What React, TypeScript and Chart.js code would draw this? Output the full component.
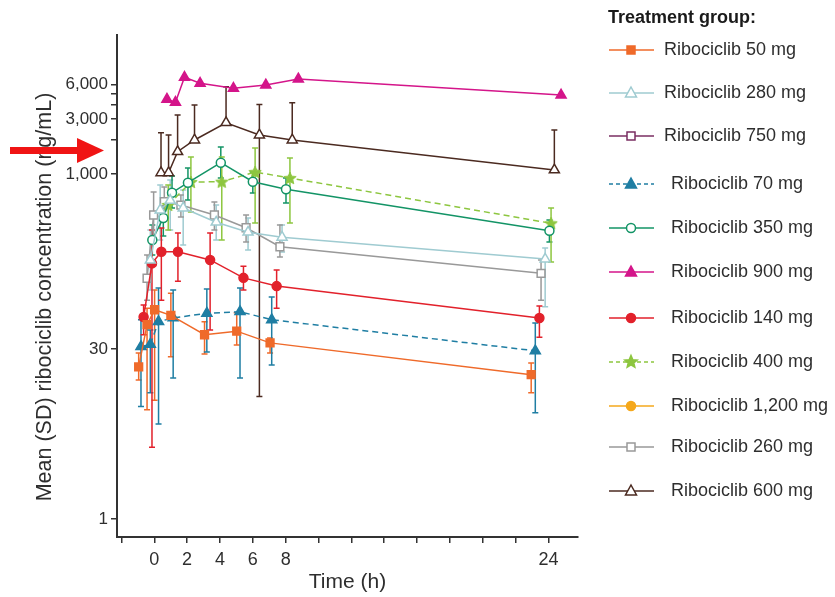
import React, { useEffect, useRef } from 'react';
import { Chart, registerables } from 'chart.js';
Chart.register(...registerables);

// ---------- data (time in h, concentration in ng/mL) ----------
const time50 = [-0.95, -0.44, 0.02, 1.01, 3.06, 5.02, 7.05, 22.95];
const conc50 = [21, 49, 66, 59, 40, 43, 34, 18];
const hi50 = [27.8, 68, 98, 92, 52, 62, 37.5, 22.7];
const lo50 = [16.2, 8.9, 10.8, 25.8, 27.2, 32.6, 27.8, 12.5];

const time280 = [-0.24, 0.36, 0.97, 1.76, 3.77, 5.71, 7.78, 23.8];
const conc280 = [178, 486, 590, 506, 381, 312, 282, 182];
const hi280 = [326, 802, 887, 726, 537, 414, 360, 227];
const lo280 = [98, 267, 326, 241, 267, 218, 210, 70];

const time750: number[] = [];
const conc750: number[] = [];

const time70 = [-0.81, -0.24, 0.26, 1.15, 3.2, 5.22, 7.15, 23.2];
const conc70 = [31.5, 33, 52, 56, 61.5, 63.5, 54, 29];
const hi70 = [54, 44, 102, 98, 100, 102, 85, 50.6];
const lo70 = [9.5, 12.5, 6.7, 16.8, 28.3, 16.8, 21.8, 8.4];

const time350 = [-0.12, 0.55, 1.08, 2.05, 4.05, 6.0, 8.02, 24.06];
const conc350 = [267, 414, 688, 840, 1254, 857, 736, 321];
const hi350 = [360, 594, 961, 1128, 1718, 1040, 923, 398];
const lo350 = [198, 289, 506, 594, 923, 684, 560, 256];

const time900 = [0.77, 1.29, 1.84, 2.79, 4.82, 6.79, 8.77, 24.77];
const conc900 = [4465, 4200, 6930, 6150, 5560, 5940, 6700, 4860];

const time140 = [-0.65, -0.14, 0.43, 1.44, 3.4, 5.43, 7.45, 23.45];
const conc140 = [57, 167, 211, 211, 179, 125, 106, 56];
const hi140 = [72.6, 326, 339, 307, 307, 158, 146, 71];
const lo140 = [40, 4.2, 80, 117, 44, 98, 68, 38];

const time400 = [0.85, 2.23, 4.11, 6.14, 8.26, 24.16];
const conc400 = [538, 852, 857, 1040, 923, 373];
const hi400 = [802, 1406, 1406, 1683, 1377, 506];
const lo400 = [326, 468, 267, 375, 375, 172];

const time1200: number[] = [];
const conc1200: number[] = [];

const time260 = [-0.44, -0.04, 0.61, 1.62, 3.66, 5.59, 7.65, 23.55];
const conc260 = [124, 440, 574, 537, 440, 341, 233, 137];
const hi260 = [198, 697, 771, 657, 571, 440, 360, 179];
const lo260 = [80, 267, 398, 423, 326, 256, 190, 80];

const time600 = [0.41, 0.87, 1.42, 2.45, 4.37, 6.4, 8.4, 24.36];
const conc600 = [1026, 1026, 1563, 1977, 2793, 2184, 1977, 1085];
const hi600 = [2286, 2184, 3260, 3980, 5740, 4017, 4170, 2416];
const lo600 = [null, null, null, null, null, 11.6, null, null];

const xTicks = [-2, 0, 2, 4, 6, 8, 10, 12, 14, 16, 18, 20, 22, 24];
const xLabels = [0, 2, 4, 6, 8, 24];
const yTicks = [1, 30, 1000, 2000, 3000, 4000, 5000, 6000];
const yLabels = [1, 30, 1000, 3000, 6000];

const FONT = "'Liberation Sans', Arial, Helvetica, sans-serif";
const TXT = '#2e2e2e';

type Group = {
  label: string; t: number[]; c: number[]; hi?: (number | null)[]; lo?: (number | null)[];
  color: string; marker: 'rect' | 'triangle' | 'circle' | 'star'; open: boolean; dashed: boolean;
};

const groups: Group[] = [
  { label: 'Ribociclib 50 mg', t: time50, c: conc50, hi: hi50, lo: lo50, color: '#ef6a2a', marker: 'rect', open: false, dashed: false },
  { label: 'Ribociclib 280 mg', t: time280, c: conc280, hi: hi280, lo: lo280, color: '#9fcbd1', marker: 'triangle', open: true, dashed: false },
  { label: 'Ribociclib 750 mg', t: time750, c: conc750, color: '#7a2e62', marker: 'rect', open: true, dashed: false },
  { label: 'Ribociclib 70 mg', t: time70, c: conc70, hi: hi70, lo: lo70, color: '#1f7ea3', marker: 'triangle', open: false, dashed: true },
  { label: 'Ribociclib 350 mg', t: time350, c: conc350, hi: hi350, lo: lo350, color: '#139466', marker: 'circle', open: true, dashed: false },
  { label: 'Ribociclib 900 mg', t: time900, c: conc900, color: '#d4158a', marker: 'triangle', open: false, dashed: false },
  { label: 'Ribociclib 140 mg', t: time140, c: conc140, hi: hi140, lo: lo140, color: '#e2212b', marker: 'circle', open: false, dashed: false },
  { label: 'Ribociclib 400 mg', t: time400, c: conc400, hi: hi400, lo: lo400, color: '#8dc63f', marker: 'star', open: false, dashed: true },
  { label: 'Ribociclib 1,200 mg', t: time1200, c: conc1200, color: '#f5a81c', marker: 'circle', open: false, dashed: false },
  { label: 'Ribociclib 260 mg', t: time260, c: conc260, hi: hi260, lo: lo260, color: '#999999', marker: 'rect', open: true, dashed: false },
  { label: 'Ribociclib 600 mg', t: time600, c: conc600, hi: hi600, lo: lo600, color: '#4b2a20', marker: 'triangle', open: true, dashed: false },
];

const legendY = [50, 93, 136, 184, 228, 272, 318, 362, 406, 447, 491];

function starPath(ctx: CanvasRenderingContext2D, x: number, y: number, r: number) {
  ctx.beginPath();
  for (let i = 0; i < 10; i++) {
    const rad = i % 2 === 0 ? r : r * 0.45;
    const a = -Math.PI / 2 + (i * Math.PI) / 5;
    const px = x + rad * Math.cos(a), py = y + rad * Math.sin(a);
    if (i === 0) ctx.moveTo(px, py); else ctx.lineTo(px, py);
  }
  ctx.closePath();
}

function drawMarker(ctx: CanvasRenderingContext2D, g: Group, x: number, y: number) {
  ctx.save();
  ctx.lineWidth = 1.5;
  ctx.strokeStyle = g.color;
  ctx.fillStyle = g.open ? '#ffffff' : g.color;
  ctx.setLineDash([]);
  if (g.marker === 'rect') {
    ctx.beginPath(); ctx.rect(x - 4, y - 4, 8, 8);
  } else if (g.marker === 'triangle') {
    ctx.beginPath(); ctx.moveTo(x, y - 6); ctx.lineTo(x + 5.5, y + 4); ctx.lineTo(x - 5.5, y + 4); ctx.closePath();
  } else if (g.marker === 'circle') {
    ctx.beginPath(); ctx.arc(x, y, 4.5, 0, Math.PI * 2);
  } else {
    starPath(ctx, x, y, 6.5);
  }
  ctx.fill(); ctx.stroke();
  ctx.restore();
}

const errorBars = {
  id: 'errorBars',
  beforeDatasetsDraw(chart: any) {
    const { ctx } = chart;
    const xs = chart.scales.x, ys = chart.scales.y;
    chart.data.datasets.forEach((ds: any) => {
      if (!ds.errHi) return;
      ctx.save();
      ctx.strokeStyle = ds.borderColor;
      ctx.lineWidth = 1.5;
      ctx.setLineDash([]);
      ds.data.forEach((p: any, j: number) => {
        const px = xs.getPixelForValue(p.x);
        const py = ys.getPixelForValue(p.y);
        const ends = [ds.errHi[j], ds.errLo ? ds.errLo[j] : null];
        ends.forEach((v: any) => {
          if (v == null) return;
          const e = ys.getPixelForValue(v);
          ctx.beginPath(); ctx.moveTo(px, py); ctx.lineTo(px, e);
          ctx.moveTo(px - 3, e); ctx.lineTo(px + 3, e); ctx.stroke();
        });
      });
      ctx.restore();
    });
  },
};

const decorations = {
  id: 'decorations',
  afterDraw(chart: any) {
    const { ctx, chartArea } = chart;
    ctx.save();
    // axis titles
    ctx.fillStyle = TXT;
    ctx.textAlign = 'center';
    ctx.textBaseline = 'middle';
    ctx.font = `21px ${FONT}`;
    ctx.fillText('Time (h)', (chartArea.left + chartArea.right) / 2, 582);
    ctx.save();
    ctx.translate(45, 297);
    ctx.rotate(-Math.PI / 2);
    ctx.font = `21.5px ${FONT}`;
    ctx.fillText('Mean (SD) ribociclib concentration (ng/mL)', 0, 0);
    ctx.restore();
    // legend
    ctx.textAlign = 'left';
    ctx.font = `bold 18px ${FONT}`;
    ctx.fillStyle = '#1a1a1a';
    ctx.fillText('Treatment group:', 608, 18);
    ctx.font = `18px ${FONT}`;
    groups.forEach((g, i) => {
      const y = legendY[i];
      ctx.save();
      ctx.strokeStyle = g.color;
      ctx.lineWidth = 1.5;
      ctx.setLineDash(g.dashed ? [4, 3] : []);
      ctx.beginPath(); ctx.moveTo(609, y); ctx.lineTo(654, y); ctx.stroke();
      ctx.restore();
      drawMarker(ctx, g, 631, y);
      ctx.fillStyle = TXT;
      ctx.fillText(g.label, i < 3 ? 664 : 671, y);
    });
    // red arrow
    ctx.fillStyle = '#f01414';
    ctx.beginPath();
    ctx.rect(10, 147, 70, 7);
    ctx.fill();
    ctx.beginPath();
    ctx.moveTo(77, 138); ctx.lineTo(104, 150.5); ctx.lineTo(77, 163); ctx.closePath();
    ctx.fill();
    ctx.restore();
  },
};

export default function App() {
  const ref = useRef<HTMLCanvasElement | null>(null);
  useEffect(() => {
    if (!ref.current) return;
    const starImg = document.createElement('canvas');
    starImg.width = 16; starImg.height = 16;
    const sctx = starImg.getContext('2d')!;
    sctx.fillStyle = '#8dc63f'; sctx.strokeStyle = '#8dc63f'; sctx.lineWidth = 1;
    starPath(sctx, 8, 8.5, 6.5); sctx.fill(); sctx.stroke();

    const datasets = groups.map((g) => ({
      label: g.label,
      data: g.t.map((t, i) => ({ x: t, y: g.c[i] })),
      borderColor: g.color,
      backgroundColor: g.open ? '#ffffff' : g.color,
      pointBackgroundColor: g.open ? '#ffffff' : g.color,
      pointBorderColor: g.color,
      pointStyle: g.marker === 'star' ? starImg : g.marker,
      pointRadius: g.marker === 'rect' ? 5.5 : g.marker === 'triangle' ? 5.8 : 4.5,
      pointBorderWidth: 1.5,
      borderWidth: 1.5,
      borderDash: g.dashed ? [6, 4] : [],
      tension: 0,
      fill: false,
      errHi: g.hi,
      errLo: g.lo,
    }));

    const chart = new Chart(ref.current, {
      type: 'line',
      data: { datasets } as any,
      options: {
        responsive: false,
        animation: false,
        devicePixelRatio: 1,
        layout: { padding: { left: 0, top: 35, right: 257, bottom: 0 } },
        plugins: { legend: { display: false }, tooltip: { enabled: false } },
        scales: {
          x: {
            type: 'linear',
            min: -2.27,
            max: 25.8,
            afterBuildTicks: (s: any) => { s.ticks = xTicks.map((v) => ({ value: v })); },
            afterFit: (s: any) => { s.height = 60; },
            ticks: {
              autoSkip: false, maxRotation: 0, padding: 6,
              color: TXT, font: { family: FONT, size: 18 },
              callback: (v: any) => (xLabels.includes(Number(v)) ? String(v) : ''),
            },
            grid: { drawOnChartArea: false, drawTicks: true, tickLength: 6, color: '#333', lineWidth: 1.5 },
            border: { color: '#333', width: 2 },
          },
          y: {
            type: 'logarithmic',
            min: 0.697,
            max: 16180,
            afterBuildTicks: (s: any) => { s.ticks = yTicks.map((v) => ({ value: v })); },
            afterFit: (s: any) => { s.width = 117; },
            ticks: {
              autoSkip: false, padding: 3,
              color: TXT, font: { family: FONT, size: 17 },
              callback: (v: any) => (yLabels.includes(Number(v)) ? Number(v).toLocaleString('en-US') : ''),
            },
            grid: { drawOnChartArea: false, drawTicks: true, tickLength: 6, color: '#333', lineWidth: 1.5 },
            border: { color: '#333', width: 2 },
          },
        },
      } as any,
      plugins: [errorBars, decorations],
    });
    return () => chart.destroy();
  }, []);
  return (
    <div style={{ position: 'absolute', left: 0, top: 0, width: 835, height: 597, background: '#fff' }}>
      <canvas ref={ref} width={835} height={597} style={{ width: 835, height: 597, display: 'block' }} />
    </div>
  );
}
